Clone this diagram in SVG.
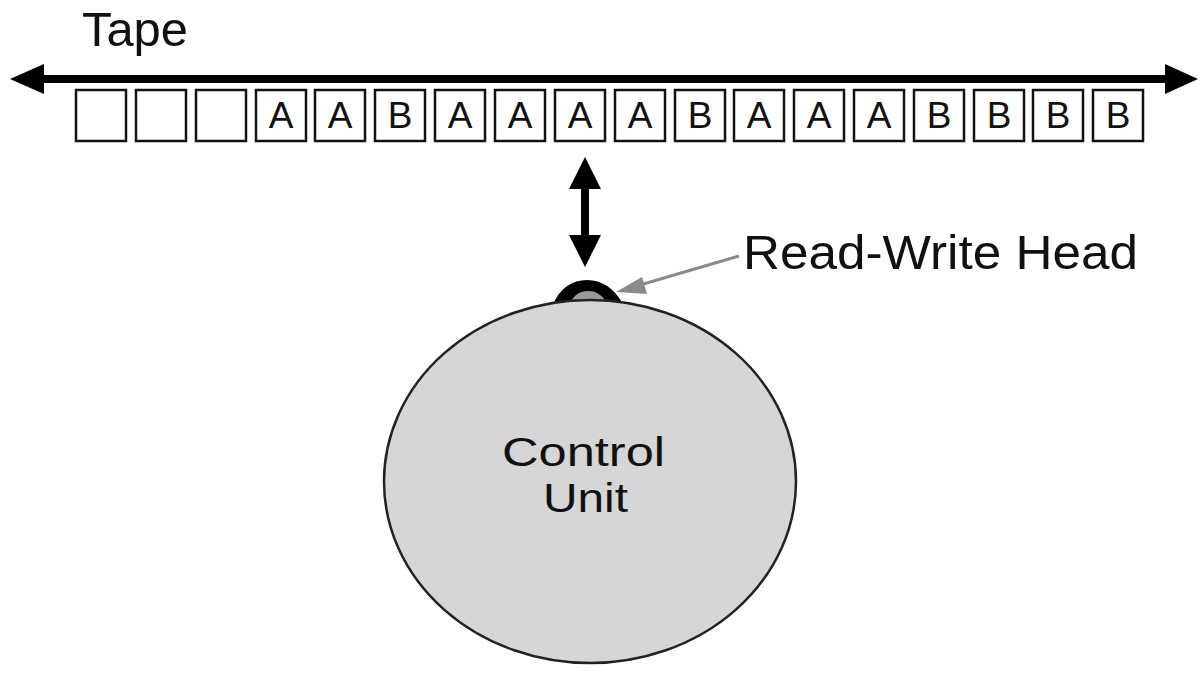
<svg xmlns="http://www.w3.org/2000/svg" width="1200" height="674" viewBox="0 0 1200 674">
<style>
  text { font-family: "Liberation Sans", Arial, Helvetica, sans-serif; fill: #111; }
  .cell rect { fill: #fff; stroke: #111; stroke-width: 2.5; }
  .cell text { font-size: 37px; text-anchor: middle; }
  .big { font-size: 48px; }
  .cu { font-size: 41px; }
</style>
<rect width="1200" height="674" fill="#fff"/>
<g id="connectors">
  <g id="tape-line">
    <line x1="38" y1="79" x2="1170" y2="79" stroke="#000" stroke-width="8"/>
    <polygon points="10,79 44,64 44,94" fill="#000"/>
    <polygon points="1198,79 1165,64 1165,94" fill="#000"/>
  </g>
  <g id="head-arrow">
    <polygon points="585,157 601,189 589,189 589,235 601,235 585,267 569,235 581,235 581,189 569,189" fill="#000"/>
  </g>
  <g id="label-pointer">
    <line x1="739" y1="256" x2="640" y2="285" stroke="#8a8a8a" stroke-width="3"/>
    <polygon points="616,292 642,277 647,294" fill="#8a8a8a"/>
  </g>
</g>
<g id="tape-label"><text class="big" x="82" y="46" textLength="106" lengthAdjust="spacingAndGlyphs">Tape</text></g>
<g id="tape">
  <g class="cell" id="c0"><rect x="76" y="90" width="50" height="51"/></g>
  <g class="cell" id="c1"><rect x="136" y="90" width="50" height="51"/></g>
  <g class="cell" id="c2"><rect x="196" y="90" width="50" height="51"/></g>
  <g class="cell" id="c3"><rect x="256" y="90" width="50" height="51"/><text x="281" y="128">A</text></g>
  <g class="cell" id="c4"><rect x="315" y="90" width="50" height="51"/><text x="340" y="128">A</text></g>
  <g class="cell" id="c5"><rect x="375" y="90" width="50" height="51"/><text x="400" y="128">B</text></g>
  <g class="cell" id="c6"><rect x="435" y="90" width="50" height="51"/><text x="460" y="128">A</text></g>
  <g class="cell" id="c7"><rect x="495" y="90" width="50" height="51"/><text x="520" y="128">A</text></g>
  <g class="cell" id="c8"><rect x="555" y="90" width="50" height="51"/><text x="580" y="128">A</text></g>
  <g class="cell" id="c9"><rect x="615" y="90" width="50" height="51"/><text x="640" y="128">A</text></g>
  <g class="cell" id="c10"><rect x="675" y="90" width="50" height="51"/><text x="700" y="128">B</text></g>
  <g class="cell" id="c11"><rect x="734" y="90" width="50" height="51"/><text x="759" y="128">A</text></g>
  <g class="cell" id="c12"><rect x="794" y="90" width="50" height="51"/><text x="819" y="128">A</text></g>
  <g class="cell" id="c13"><rect x="854" y="90" width="50" height="51"/><text x="879" y="128">A</text></g>
  <g class="cell" id="c14"><rect x="914" y="90" width="50" height="51"/><text x="939" y="128">B</text></g>
  <g class="cell" id="c15"><rect x="974" y="90" width="50" height="51"/><text x="999" y="128">B</text></g>
  <g class="cell" id="c16"><rect x="1033" y="90" width="50" height="51"/><text x="1058" y="128">B</text></g>
  <g class="cell" id="c17"><rect x="1093" y="90" width="50" height="51"/><text x="1118" y="128">B</text></g>
</g>
<g id="read-write-head">
  <path d="M552,306 C560,288 572,280 587,280 C602,280 614,288 623,304 Z" fill="#000"/>
  <path d="M569,304 C575,294 580,291 588,291 C596,291 601,294 607,303 Z" fill="#9a9a9a"/>
  <text class="big" x="743" y="269" textLength="395" lengthAdjust="spacingAndGlyphs">Read-Write Head</text>
</g>
<g id="control-unit">
  <ellipse cx="590" cy="481.5" rx="206" ry="181.5" fill="#d6d6d6" stroke="#222" stroke-width="2.5"/>
  <text class="cu" x="502" y="466" textLength="163" lengthAdjust="spacingAndGlyphs">Control</text>
  <text class="cu" x="543" y="512" textLength="85" lengthAdjust="spacingAndGlyphs">Unit</text>
</g>
</svg>
